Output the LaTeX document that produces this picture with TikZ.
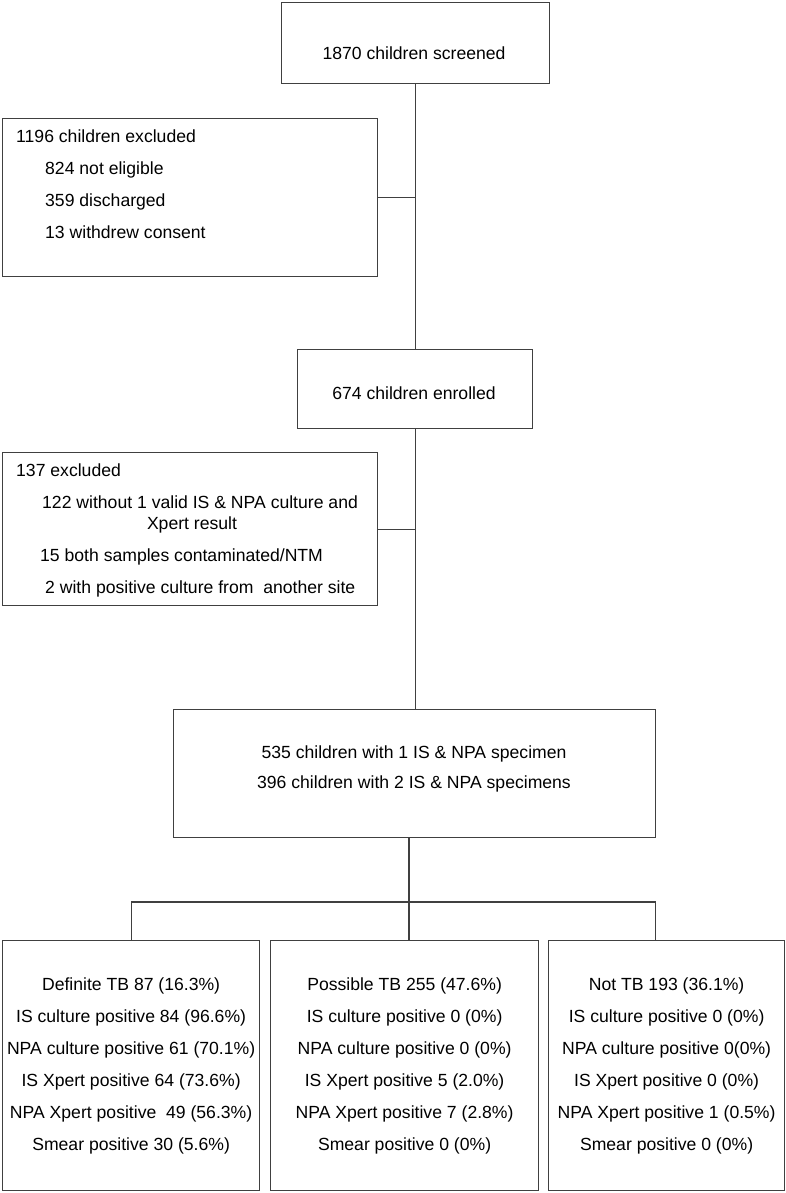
\documentclass[tikz,border=0pt]{standalone}
\usepackage{fontspec}
\setmainfont{Liberation Sans}
\begin{document}
\begin{tikzpicture}[x=1pt,y=-1pt,
        every node/.style={font=\fontsize{17.6}{32}\selectfont},
        box/.style={draw=black!75,line width=1.2pt,anchor=north west,inner sep=0pt,align=center},
        txt/.style={inner sep=0pt,text height=12.5pt,text depth=0pt},
        link/.style={draw=black!75,line width=1.2pt}]
    \useasboundingbox (0,0) rectangle (786,1193);
    %% screened
    \node[box,minimum width=268pt,minimum height=81pt] (screen) at (281,2) {};
    \node[txt] (screentxt) at (414,53) {1870 children screened};
    %% first exclusion
    \node[box,minimum width=375pt,minimum height=158pt] (excl1) at (2,118) {};
    \node[txt,anchor=west] (ex1a) at (16,136) {1196 children excluded};
    \node[txt,anchor=west] (ex1b) at (45,168) {824 not eligible};
    \node[txt,anchor=west] (ex1c) at (45,200) {359 discharged};
    \node[txt,anchor=west] (ex1d) at (45,232) {13 withdrew consent};
    %% enrolled
    \node[box,minimum width=235pt,minimum height=79pt] (enrol) at (297,349) {};
    \node[txt] (enroltxt) at (414,393) {674 children enrolled};
    %% second exclusion
    \node[box,minimum width=375pt,minimum height=153pt] (excl2) at (2,452) {};
    \node[txt,anchor=west] (ex2a) at (16,470) {137 excluded};
    \node[txt,anchor=west] (ex2b) at (42,502) {122 without 1 valid IS \& NPA culture and};
    \node[txt] (ex2c) at (192,523) {Xpert result};
    \node[txt,anchor=west] (ex2d) at (40,555) {15 both samples contaminated/NTM};
    \node[txt,anchor=west] (ex2e) at (45,587) {2 with positive culture from\ \ another site};
    %% specimens
    \node[box,minimum width=482pt,minimum height=128pt] (spec) at (173,709) {};
    \node[inner sep=0pt,align=center,font=\fontsize{17.6}{30}\selectfont] (spectxt) at (414,768.5)
        {535 children with 1 IS \& NPA specimen\\396 children with 2 IS \& NPA specimens};
    %% outcome groups
    \node[box,minimum width=257pt,minimum height=250pt] (def) at (2,940)
        {Definite TB 87 (16.3\%)\\IS culture positive 84 (96.6\%)\\NPA culture positive 61 (70.1\%)\\
         IS Xpert positive 64 (73.6\%)\\NPA Xpert positive\ \ 49 (56.3\%)\\Smear positive 30 (5.6\%)};
    \node[box,minimum width=268pt,minimum height=250pt] (poss) at (270,940)
        {Possible TB 255 (47.6\%)\\IS culture positive 0 (0\%)\\NPA culture positive 0 (0\%)\\
         IS Xpert positive 5 (2.0\%)\\NPA Xpert positive 7 (2.8\%)\\Smear positive 0 (0\%)};
    \node[box,minimum width=236pt,minimum height=250pt] (nottb) at (548,940)
        {Not TB 193 (36.1\%)\\IS culture positive 0 (0\%)\\NPA culture positive 0(0\%)\\
         IS Xpert positive 0 (0\%)\\NPA Xpert positive 1 (0.5\%)\\Smear positive 0 (0\%)};
    %% connectors
    \draw[link] (screen.south) -- (screen.south |- enrol.north);
    \draw[link] (excl1.east) -- (excl1.east -| screen.south);
    \draw[link] (enrol.south) -- (enrol.south |- spec.north);
    \draw[link] (excl2.east) -- (excl2.east -| enrol.south);
    \coordinate (split) at (409,902);
    \draw[link] (spec.south -| split) -- (split);
    \draw[link] (def.north) |- (split);
    \draw[link] (split) -- (split |- poss.north);
    \draw[link] (split) -| ([xshift=-11pt]nottb.north);
\end{tikzpicture}
\end{document}
